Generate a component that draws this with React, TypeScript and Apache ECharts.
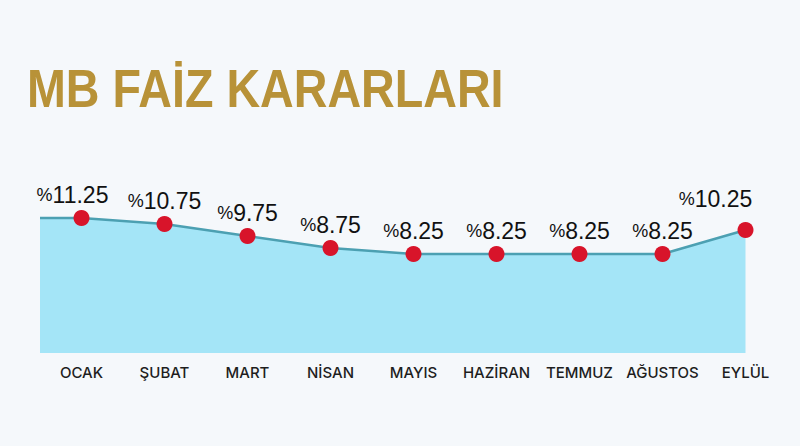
import React, { useEffect, useRef } from "react";
import * as echarts from "echarts";

const TITLE = "MB FAİZ KARARLARI";
const months = ["OCAK", "ŞUBAT", "MART", "NİSAN", "MAYIS", "HAZİRAN", "TEMMUZ", "AĞUSTOS", "EYLÜL"];
const rates = [11.25, 10.75, 9.75, 8.75, 8.25, 8.25, 8.25, 8.25, 10.25];

export default function App() {
  const ref = useRef<HTMLDivElement>(null);
  useEffect(() => {
    if (!ref.current) return;
    const chart = echarts.init(ref.current, undefined, { renderer: "svg" });
    const n = months.length;
    const lineData: any[] = [
      { value: [-0.5, rates[0]], symbol: "none", label: { show: false } },
      ...rates.map((v, i) => {
        const item: any = { value: [i, v] };
        if (i === 0) item.label = { offset: [-9, 0] };
        if (i === n - 1) item.label = { offset: [-30, -8] };
        return item;
      }),
    ];
    chart.setOption({
      animation: false,
      backgroundColor: "#F5F8FB",
      graphic: [
        {
          type: "text",
          x: 27,
          y: 89,
          scaleX: 0.88,
          style: {
            text: TITLE,
            fontFamily: "Liberation Sans, Arial, sans-serif",
            fontWeight: "bold",
            fontSize: 53,
            fill: "#B89238",
            verticalAlign: "middle",
          },
        },
      ],
      grid: { left: 40, right: 13, top: 113, bottom: 93 },
      xAxis: [
        {
          type: "category",
          data: months,
          boundaryGap: true,
          axisLine: { show: false },
          axisTick: { show: false },
          splitLine: { show: false },
          axisLabel: {
            interval: 0,
            margin: 12,
            fontFamily: "Inter, Liberation Sans, sans-serif",
            fontWeight: 500,
            fontSize: 15,
            color: "#1E1E1E",
          },
        },
        {
          type: "value",
          min: -0.5,
          max: n - 0.5,
          show: false,
        },
      ],
      yAxis: { type: "value", min: 0, max: 20, show: false },
      series: [
        {
          type: "line",
          xAxisIndex: 1,
          data: lineData,
          symbol: "circle",
          symbolSize: 16,
          itemStyle: { color: "#D8142A" },
          lineStyle: { color: "#4CA0B2", width: 2.5 },
          areaStyle: { color: "#A4E5F7", opacity: 1 },
          label: {
            show: true,
            position: "top",
            distance: 4,
            formatter: (p: any) => `{p|%}{n|${p.value[1].toFixed(2)}}`,
            rich: {
              p: { fontSize: 18, color: "#111", fontFamily: "Liberation Sans, Arial, sans-serif" },
              n: { fontSize: 23, color: "#111", fontFamily: "Liberation Sans, Arial, sans-serif" },
            },
          },
        },
      ],
    });
    return () => chart.dispose();
  }, []);
  return <div ref={ref} style={{ width: 800, height: 446, position: "absolute", left: 0, top: 0 }} />;
}
